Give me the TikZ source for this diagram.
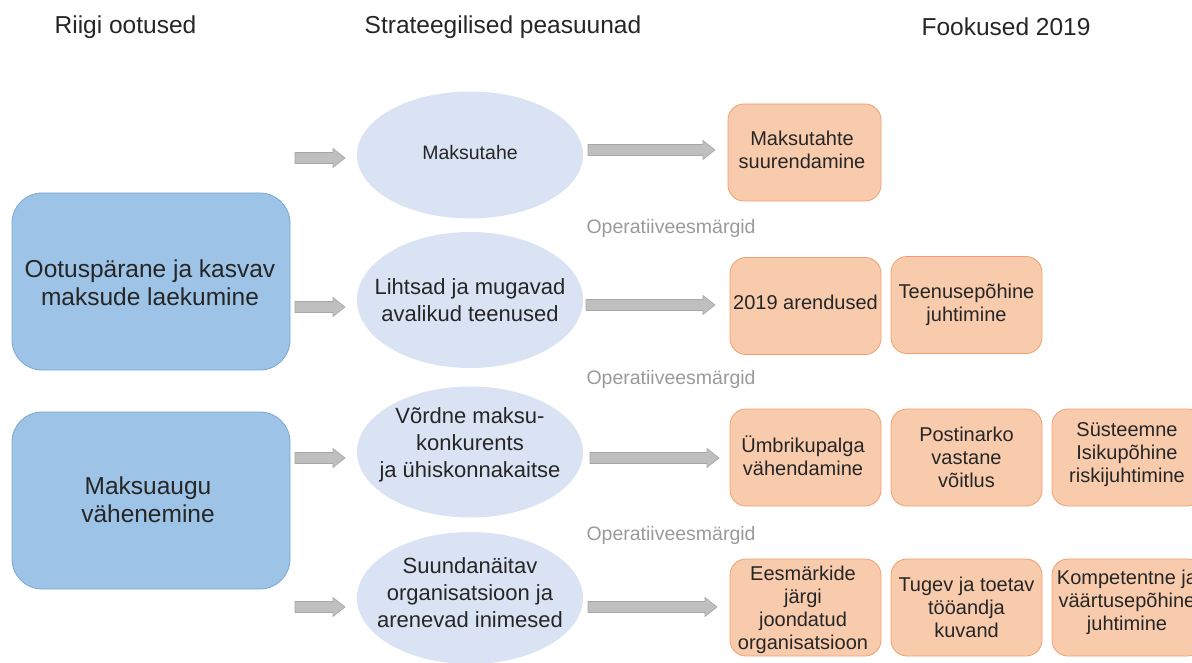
\documentclass[tikz,border=0pt]{standalone}
\usepackage{fontspec}
\setmainfont{Liberation Sans}
\usetikzlibrary{shapes.geometric,calc}
\definecolor{bluefill}{HTML}{9DC3E6}
\definecolor{blueline}{HTML}{7AA7D8}
\definecolor{ellfill}{HTML}{DAE3F3}
\definecolor{orfill}{HTML}{F8CBAD}
\definecolor{orline}{HTML}{EFA06E}
\definecolor{arfill}{HTML}{BFBFBF}
\definecolor{arline}{HTML}{A6A6A6}
\definecolor{txt}{HTML}{262626}
\definecolor{optxt}{HTML}{9A9A9A}
\newcommand{\blockarrow}[2]{%
  \draw[blockarr] let \p1=(#1), \p2=(#2) in
    (\x1,\y1+5.5pt) -- (\x2-12pt,\y1+5.5pt) -- (\x2-12pt,\y1+9.5pt) -- (\x2,\y1)
    -- (\x2-12pt,\y1-9.5pt) -- (\x2-12pt,\y1-5.5pt) -- (\x1,\y1-5.5pt) -- cycle;}
\begin{document}
\begin{tikzpicture}[x=1pt,y=-1pt,
  bluebox/.style={draw=blueline, fill=bluefill, rounded corners=30pt, line width=0.8pt,
    minimum width=278pt, minimum height=177pt, inner sep=0pt},
  ellbox/.style={ellipse, fill=ellfill, minimum width=226pt, inner sep=0pt},
  orbox/.style={draw=orline, fill=orfill, rounded corners=16pt, line width=0.8pt,
    minimum width=151pt, minimum height=97pt, inner sep=0pt},
  hdr/.style={font=\fontsize{24.5}{29}\selectfont, text=txt},
  btxt/.style={font=\fontsize{24.5}{28}\selectfont, text=txt, align=center},
  etxt/.style={font=\fontsize{22}{27}\selectfont, text=txt, align=center},
  otxt/.style={font=\fontsize{20}{23}\selectfont, text=txt, align=center},
  optx/.style={font=\fontsize{19.5}{23}\selectfont, text=optxt, anchor=west},
  blockarr/.style={fill=arfill, draw=arline, line width=0.6pt}
]
\useasboundingbox (0,0) rectangle (1192,663);

% headers
\node[hdr] (h1) at (125.5,27) {Riigi ootused};
\node[hdr] (h2) at (503,27) {Strateegilised peasuunad};
\node[hdr] (h3) at (1006,27) {Fookused 2019};

% blue boxes
\node[bluebox] (b1) at (151,281.5) {};
\node[btxt] (b1t) at (150,283) {Ootuspärane ja kasvav\\maksude laekumine};
\node[bluebox] (b2) at (151,500.5) {};
\node[btxt] (b2t) at (148,500) {Maksuaugu\\vähenemine};

% ellipses
\node[ellbox, minimum height=127pt] (e1) at (470,155) {};
\node[etxt, font=\fontsize{19.5}{24}\selectfont] (e1t) at (470,153) {Maksutahe};
\node[ellbox, minimum height=136pt] (e2) at (470,300) {};
\node[etxt] (e2t) at (470,300) {Lihtsad ja mugavad\\avalikud teenused};
\node[ellbox, minimum height=131pt] (e3) at (470,452) {};
\node[etxt] (e3t) at (470,445) {Võrdne maksu-\\konkurents\\ja ühiskonnakaitse};
\node[ellbox, minimum height=132pt] (e4) at (470,598) {};
\node[etxt] (e4t) at (470,593) {Suundanäitav\\organisatsioon ja\\arenevad inimesed};

% Operatiiveesmärgid
\node[optx] (op1) at (583,228) {Operatiiveesmärgid};
\node[optx] (op2) at (583,379) {Operatiiveesmärgid};
\node[optx] (op3) at (583,535) {Operatiiveesmärgid};

% orange boxes
\node[orbox, minimum width=153pt] (f11) at (804.5,152.5) {};
\node[otxt] (f11t) at (802,150) {Maksutahte\\suurendamine};

\node[orbox] (f21) at (805.5,306) {};
\node[otxt] (f21t) at (805.5,302) {2019 arendused};
\node[orbox] (f22) at (966.5,305) {};
\node[otxt] (f22t) at (966.5,305) {Teenusepõhine\\juhtimine};

\node[orbox] (f31) at (805.5,457.5) {};
\node[otxt] (f31t) at (803,456) {Ümbrikupalga\\vähendamine};
\node[orbox] (f32) at (966.5,457.5) {};
\node[otxt] (f32t) at (966.5,457) {Postinarko\\vastane\\võitlus};
\node[orbox] (f33) at (1127.5,457.5) {};
\node[otxt] (f33t) at (1127,455) {Süsteemne\\Isikupõhine\\riskijuhtimine};

\node[orbox] (f41) at (805.5,607.5) {};
\node[otxt] (f41t) at (803,610) {Eesmärkide\\järgi\\joondatud\\organisatsioon};
\node[orbox] (f42) at (966.5,607.5) {};
\node[otxt] (f42t) at (966.5,607) {Tugev ja toetav\\tööandja\\kuvand};
\node[orbox] (f43) at (1127.5,607.5) {};
\node[otxt] (f43t) at (1127,602) {Kompetentne ja\\väärtusepõhine\\juhtimine};

% arrow end points
\coordinate (s1a) at (295,158); \coordinate (s1b) at (345,158);
\coordinate (s2a) at (295,307); \coordinate (s2b) at (345,307);
\coordinate (s3a) at (295,458); \coordinate (s3b) at (345,458);
\coordinate (s4a) at (295,607); \coordinate (s4b) at (345,607);
\coordinate (l1a) at (588,150); \coordinate (l1b) at (715,150);
\coordinate (l2a) at (586,305); \coordinate (l2b) at (715,305);
\coordinate (l3a) at (590,458); \coordinate (l3b) at (719,458);
\coordinate (l4a) at (588,607); \coordinate (l4b) at (717,607);

\blockarrow{s1a}{s1b}
\blockarrow{s2a}{s2b}
\blockarrow{s3a}{s3b}
\blockarrow{s4a}{s4b}
\blockarrow{l1a}{l1b}
\blockarrow{l2a}{l2b}
\blockarrow{l3a}{l3b}
\blockarrow{l4a}{l4b}
\end{tikzpicture}
\end{document}
